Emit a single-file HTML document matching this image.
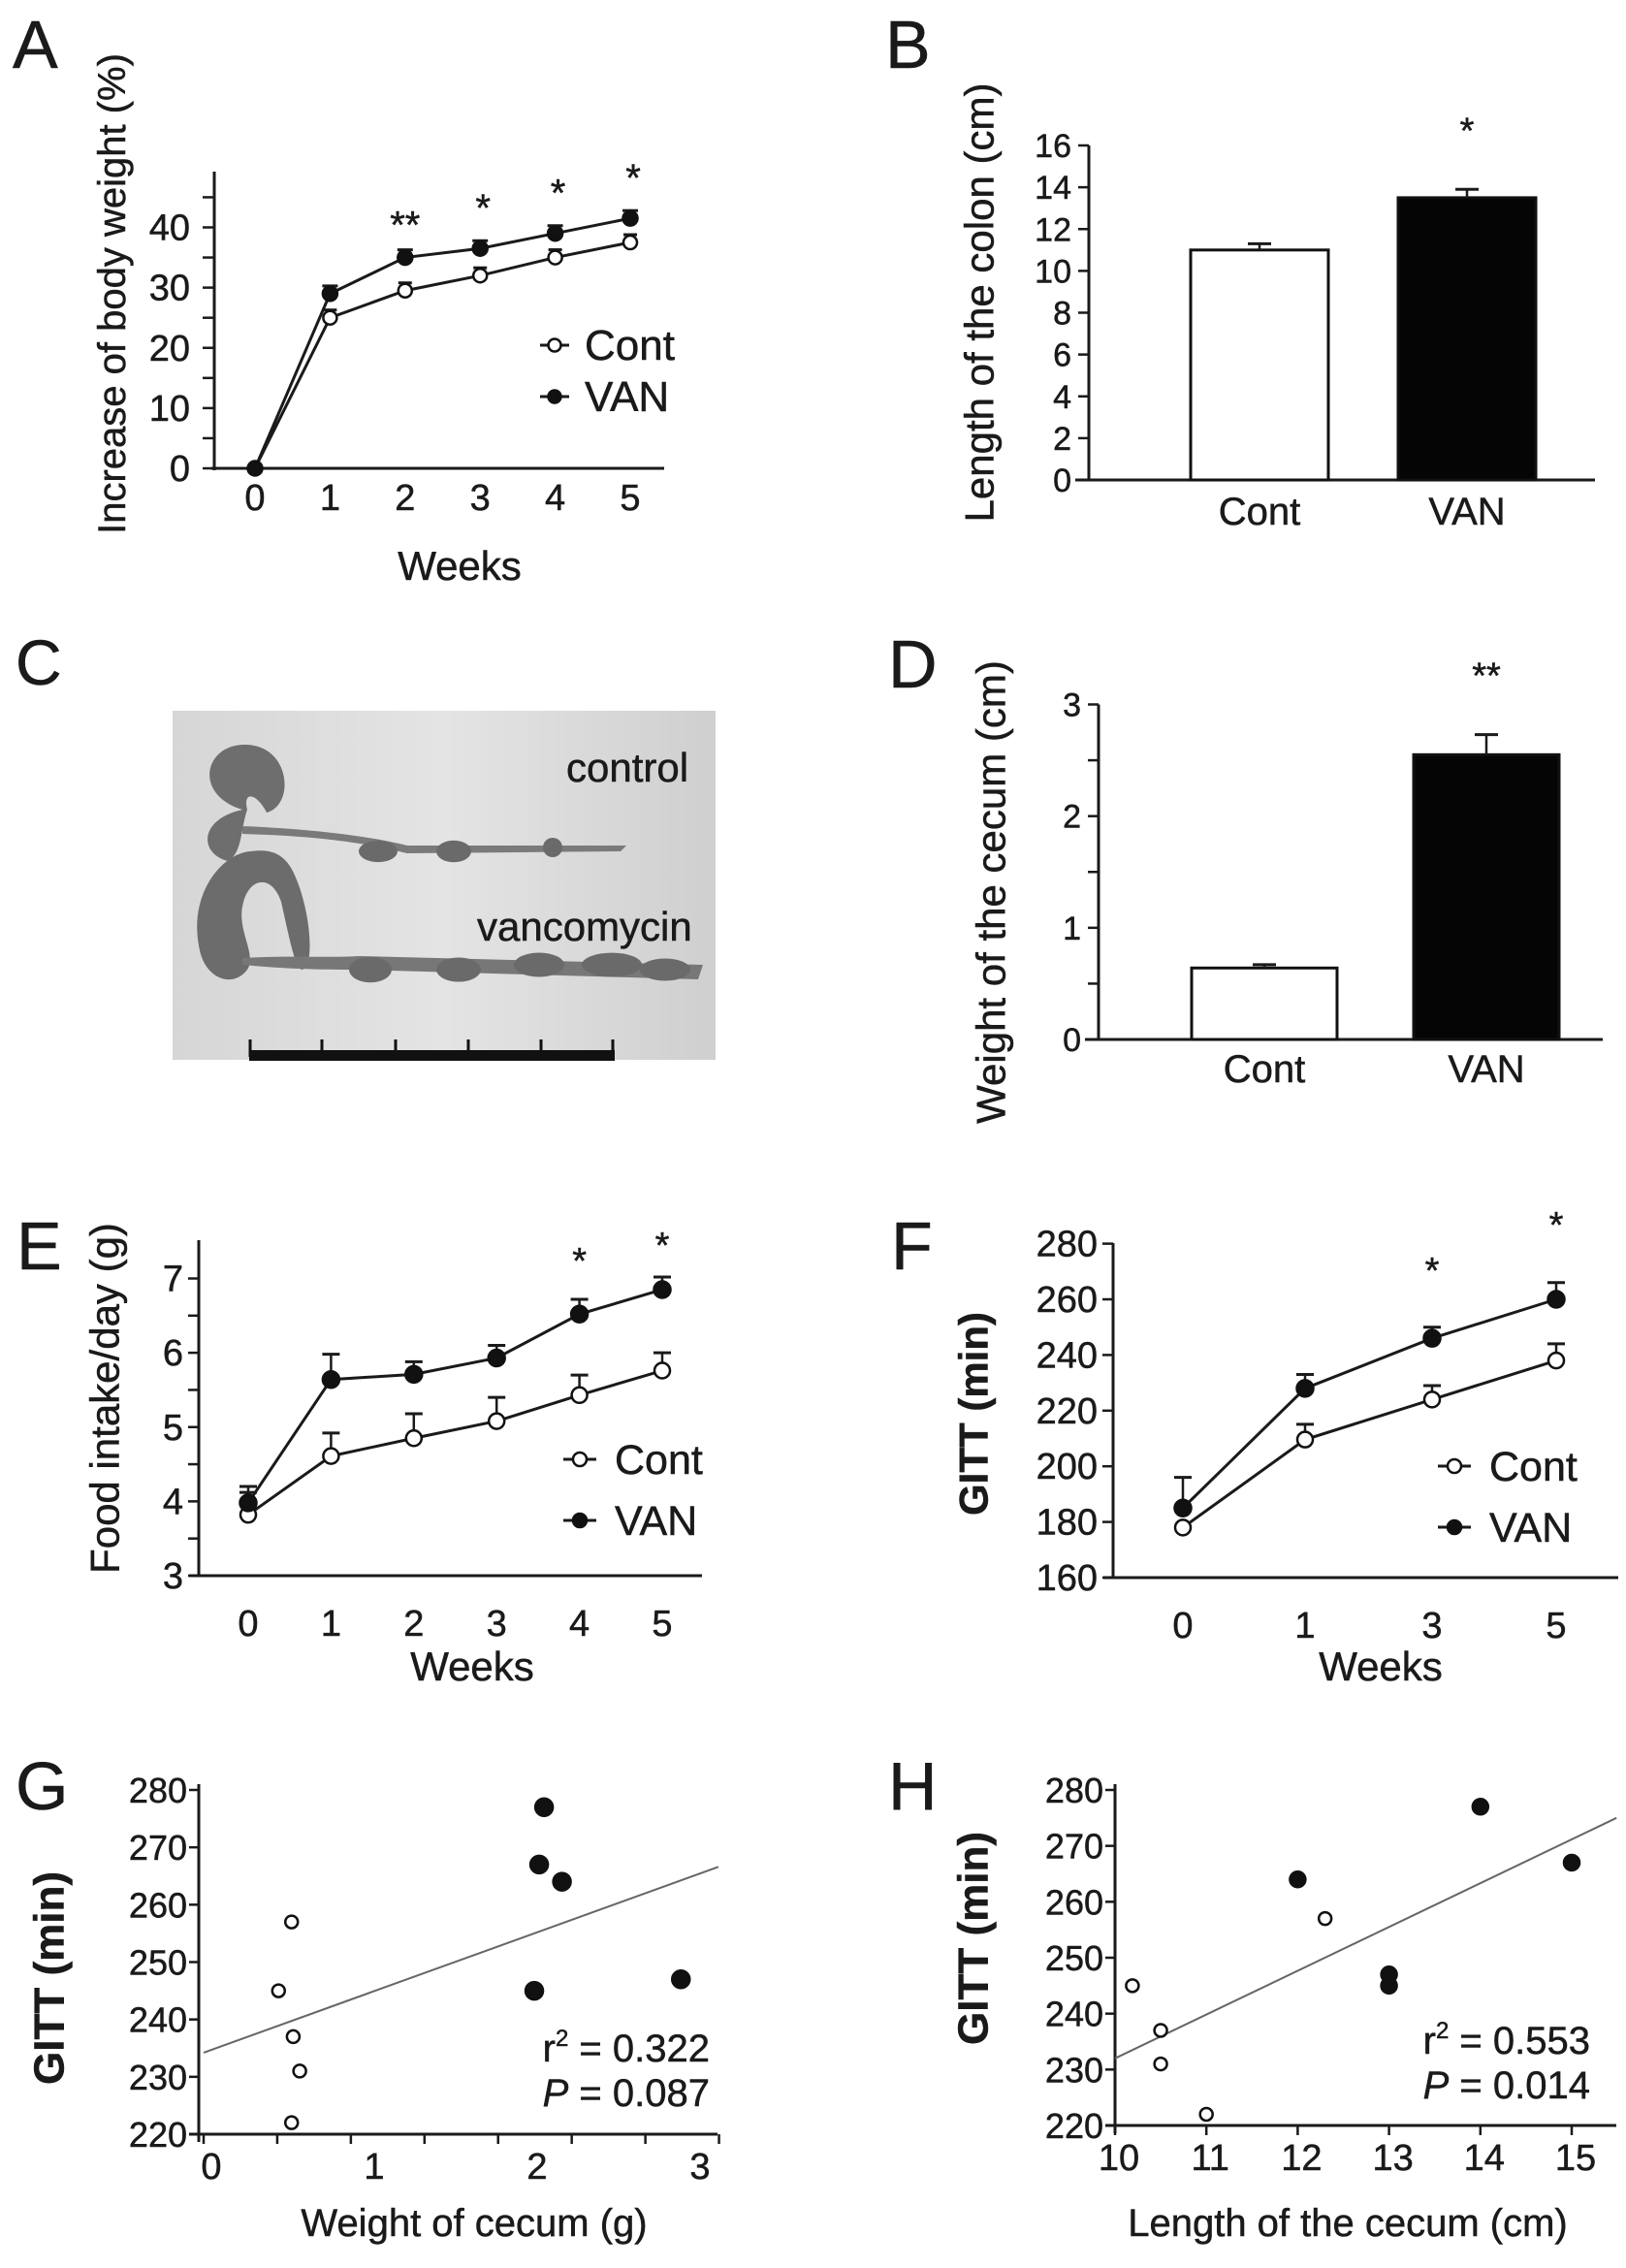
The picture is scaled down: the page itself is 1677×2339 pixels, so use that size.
<!DOCTYPE html>
<html><head><meta charset="utf-8">
<style>
html,body{margin:0;padding:0;background:#fff}
svg{display:block}
text{font-family:"Liberation Sans",Arial,sans-serif;fill:#1a1a1a;stroke:#1a1a1a;stroke-width:0.5}
</style></head>
<body>
<svg id="fig" width="1677" height="2339" viewBox="0 0 1677 2339" xmlns="http://www.w3.org/2000/svg">
<g id="panelC">
  <text x="16" y="706" font-size="66">C</text>
  <defs><linearGradient id="bg" x1="0" x2="1"><stop offset="0" stop-color="#d6d6d6"/><stop offset="0.5" stop-color="#e4e4e4"/><stop offset="1" stop-color="#cfcfcf"/></linearGradient></defs>
  <rect x="178" y="733" width="560" height="360" fill="url(#bg)"/>
  <path d="M250,835 C200,820 210,770 250,768 C300,766 305,830 275,838 C265,818 250,815 255,835 C248,855 250,880 235,888 C205,880 205,845 250,835 Z" fill="#6e6e6e"/>
  <path d="M250,860 C330,862 380,870 420,880 L640,878 L646,872 L420,872 C380,862 320,855 250,852 Z" fill="#7a7a7a"/>
  <path d="M370,878 a18,10 0 1,0 40,0 a18,10 0 1,0 -40,0 M450,878 a16,10 0 1,0 36,0 a16,10 0 1,0 -36,0 M560,874 a10,10 0 1,0 20,0 a10,10 0 1,0 -20,0" fill="#6a6a6a"/>
  <path d="M258,878 C230,880 195,920 205,975 C210,1010 240,1020 255,1000 C265,985 245,960 250,935 C255,905 280,900 290,930 C300,975 305,1000 312,1000 C325,995 320,940 305,905 C295,880 280,875 258,878 Z" fill="#6c6c6c"/>
  <path d="M250,995 C300,1000 340,1000 370,1000 L720,1010 L725,995 L370,986 C340,988 300,985 250,988 Z" fill="#777"/>
  <path d="M360,1000 a20,12 0 1,0 44,0 a20,12 0 1,0 -44,0 M450,1000 a22,12 0 1,0 46,0 a22,12 0 1,0 -46,0 M530,995 a25,12 0 1,0 52,0 a25,12 0 1,0 -52,0 M600,995 a30,12 0 1,0 62,0 a30,12 0 1,0 -62,0 M660,1000 a25,11 0 1,0 52,0 a25,11 0 1,0 -52,0" fill="#6a6a6a"/>
  <text x="584" y="806" font-size="42">control</text>
  <text x="492" y="970" font-size="42">vancomycin</text>
  <rect x="257" y="1083" width="377" height="11" fill="#111"/>
  <path d="M258,1072V1090 M332,1072V1090 M408,1072V1090 M483,1072V1090 M558,1072V1090 M632,1072V1090" stroke="#111" stroke-width="3"/>
</g>
</svg>
<script>
// ---------- Panel A data ----------
const aWeeks = [0,1,2,3,4,5];
const aCont = [0,25,29.5,32,35,37.5];
const aVan = [0,29,35,36.5,39,41.5];
const aYTicks = [0,10,20,30,40];
const aStars = ['','','**','*','*','*'];
// ---------- Panel B data ----------
const bCats = ['Cont','VAN'];
const bVals = [11.0,13.5];
const bErr = [0.3,0.4];
const bYTicks = [0,2,4,6,8,10,12,14,16];
// ---------- Panel D data ----------
const dCats = ['Cont','VAN'];
const dVals = [0.64,2.55];
const dErr = [0.03,0.18];
const dYTicks = [0,1,2,3];
// ---------- Panel E data ----------
const eWeeks = [0,1,2,3,4,5];
const eCont = [3.82,4.61,4.85,5.08,5.43,5.76];
const eContErr = [0.3,0.31,0.33,0.32,0.27,0.24];
const eVan = [3.98,5.64,5.71,5.93,6.52,6.85];
const eVanErr = [0.22,0.34,0.17,0.17,0.2,0.17];
const eYTicks = [3,4,5,6,7];
const eStars = ['','','','','*','*'];
// ---------- Panel F data ----------
const fWeeks = ['0','1','3','5'];
const fCont = [178,209.6,224,238];
const fContErr = [0,5.5,5,6];
const fVan = [185,228,246,260];
const fVanErr = [11,5,4,6];
const fYTicks = [160,180,200,220,240,260,280];
const fStars = ['','','*','*'];
// ---------- Panel G data ----------
const gContX = [0.54,0.46,0.55,0.59,0.54];
const gContY = [257,245,237,231,222];
const gVanX = [2.09,2.06,2.2,2.03,2.93];
const gVanY = [277,267,264,245,247];
const gFit = [[0,234.2],[3.16,266.6]];
const gYTicks = [220,230,240,250,260,270,280];
const gXTicks = [0,1,2,3];
// ---------- Panel H data ----------
const hContX = [10.19,10.5,10.5,11,12.3];
const hContY = [245,237,231,222,257];
const hVanX = [12,14,15,13,13];
const hVanY = [264,277,267,247,245];
const hFit = [[10,232],[15.49,275]];
const hYTicks = [220,230,240,250,260,270,280];
const hXTicks = [10,11,12,13,14,15];

const svg = document.getElementById('fig');
const NS = 'http://www.w3.org/2000/svg';
function mk(tag, attrs, parent){
  const e = document.createElementNS(NS, tag);
  for (const k in attrs) e.setAttribute(k, attrs[k]);
  (parent||svg).appendChild(e);
  return e;
}
function txt(x,y,s,size,parent,anchor,extra){
  const t = mk('text',Object.assign({x:x,y:y,'font-size':size,'text-anchor':anchor||'middle'},extra||{}),parent);
  t.textContent = s;
  return t;
}
function lin(d0,d1,r0,r1){ return v => r0 + (v-d0)*(r1-r0)/(d1-d0); }
function grp(name){
  const g = mk('g',{});
  
  
  return g;
}
function line(x1,y1,x2,y2,g,w,c){ return mk('line',{x1:x1,y1:y1,x2:x2,y2:y2,stroke:c||'#1a1a1a','stroke-width':w||3},g); }
function circ(x,y,r,filled,g){ return mk('circle',{cx:x,cy:y,r:r,fill:filled?'#111':'#fff',stroke:'#111','stroke-width':2.5},g); }
function ytitle(x,y,s,size,g,bold){
  const t = txt(x,y,s,size,g,'middle',{transform:'rotate(-90 '+x+' '+y+')','dominant-baseline':'central'});
  if(bold) t.setAttribute('font-weight','bold');
  return t;
}
function errbar(x,y0,y1,g,cap){ line(x,y0,x,y1,g,2.5); line(x-(cap||9),y1,x+(cap||9),y1,g,3); }

// ===== Panel A =====
(function(){
  const g = grp('panel-a-body-weight');
  const X = lin(0,5,263,650), Y = lin(0,40,483,234.5);
  txt(13,70,'A',70,g,'start');
  line(221,177,221,485,g); line(218,483,685,483,g);
  for(let v=0; v<=45; v+=5){ line(209,Y(v),221,Y(v),g,2.5); }
  aYTicks.forEach(v=>{ const t=txt(196,Y(v)+13,String(v),38,g,'end');  });
  aWeeks.forEach(w=>{ const t=txt(X(w),526,String(w),38,g);  });
  const yt = ytitle(116,303,'Increase of body weight (%)',40,g);
  
  const xt = txt(474,598,'Weeks',42,g); 
  const pc = mk('polyline',{points:aWeeks.map((w,i)=>X(w)+','+Y(aCont[i])).join(' '),fill:'none',stroke:'#1a1a1a','stroke-width':3},g);
  
  const pv = mk('polyline',{points:aWeeks.map((w,i)=>X(w)+','+Y(aVan[i])).join(' '),fill:'none',stroke:'#1a1a1a','stroke-width':3},g);
  
  aWeeks.forEach((w,i)=>{
    if(i>0){ line(X(w)-8,Y(aVan[i])-8,X(w)+8,Y(aVan[i])-8,g,3); line(X(w)-7,Y(aCont[i])-8,X(w)+7,Y(aCont[i])-8,g,3); }
    const c1=circ(X(w),Y(aCont[i]),7,false,g); 
    const c2=circ(X(w),Y(aVan[i]),7.5,true,g); 
    if(aStars[i]){ const s=txt(X(w)+(i===2?0:3),Y(aVan[i])-(i===2?20:28),aStars[i],40,g);  }
  });
  line(557,356,587,356,g,3); circ(572,356,6.5,false,g);
  const l1=txt(603,371,'Cont',44,g,'start'); 
  line(557,409,587,409,g,3); circ(572,409,6.5,true,g);
  const l2=txt(603,424,'VAN',44,g,'start'); 
})();

// ===== bar panel helper =====
function barPanel(name,letter,lx,ly,ax,yTop,yZero,xEnd,dMax,ticks,minor,cats,vals,errs,barX,barW,title,tx,ty,stars,catY){
  const g = grp(name);
  const Y = lin(0,dMax,yZero,yTop);
  txt(lx,ly,letter,70,g,'start');
  line(ax,yTop,ax,yZero+1.5,g); line(ax-14,yZero,xEnd,yZero,g);
  minor.forEach(v=>line(ax-11,Y(v),ax,Y(v),g,2.5));
  ticks.forEach(v=>{ const t=txt(ax-18,Y(v)+12,String(v),34,g,'end');  });
  cats.forEach((c,i)=>{
    const b = mk('rect',{x:barX[i],y:Y(vals[i]),width:barW,height:yZero-Y(vals[i]),fill:i?'#050505':'#fff',stroke:'#111','stroke-width':3},g);
    
    errbar(barX[i]+barW/2,Y(vals[i]),Y(vals[i]+errs[i]),g,12);
    const t=txt(barX[i]+barW/2,catY,c,40,g); 
    if(stars[i]){ const s=txt(barX[i]+barW/2,Y(vals[i]+errs[i])-48,stars[i],38,g);  }
  });
  const yt=ytitle(tx,ty,title,42,g); 
}
barPanel('panel-b','B',913,70,1123,150,495,1645,16,bYTicks,bYTicks,bCats,bVals,bErr,[1228,1442],142,'Length of the colon (cm)',1010,312,['','*'],541);
barPanel('panel-d','D',916,709,1133,726.5,1072,1653,3,dYTicks,[0,0.5,1,1.5,2,2.5,3],dCats,dVals,dErr,[1229,1458],150,'Weight of the cecum (cm)',1022,920,['','**'],1116);

// ===== line panel helper (E, F) =====
function linePanel(name,letter,lx,ly,ax,yTop,yAxTop,yZero,xEnd,d0,d1,ticks,minor,xs,xl,cont,cerr,van,verr,stars,title,tx,ty,tbold,legX,legY1,legY2,weeksX,weeksY,starY){
  const g = grp(name);
  const Y = lin(d0,d1,yZero,yTop);
  txt(lx,ly,letter,70,g,'start');
  line(ax,yAxTop,ax,yZero+1.5,g); line(ax-10,yZero,xEnd,yZero,g);
  minor.forEach(v=>line(ax-11,Y(v),ax,Y(v),g,2.5));
  ticks.forEach(v=>{ const t=txt(ax-16,Y(v)+13,String(v),38,g,'end');  });
  xs.forEach((x,i)=>{ const t=txt(x,yZero+62,xl[i],38,g);  });
  const pc = mk('polyline',{points:xs.map((x,i)=>x+','+Y(cont[i])).join(' '),fill:'none',stroke:'#1a1a1a','stroke-width':3},g);
  
  const pv = mk('polyline',{points:xs.map((x,i)=>x+','+Y(van[i])).join(' '),fill:'none',stroke:'#1a1a1a','stroke-width':3},g);
  
  xs.forEach((x,i)=>{
    if(cerr[i]>0) errbar(x,Y(cont[i]),Y(cont[i]+cerr[i]),g,9);
    if(verr[i]>0) errbar(x,Y(van[i]),Y(van[i]+verr[i]),g,9);
    const c1=circ(x,Y(cont[i]),8,false,g); 
    const c2=circ(x,Y(van[i]),8.5,true,g); 
    if(stars[i]){ const s=txt(x,starY[i],stars[i],38,g);  }
  });
  line(legX,legY1,legX+34,legY1,g,3); circ(legX+17,legY1,7,false,g);
  const l1=txt(legX+53,legY1+15,'Cont',43,g,'start'); 
  line(legX,legY2,legX+34,legY2,g,3); circ(legX+17,legY2,7,true,g);
  const l2=txt(legX+53,legY2+15,'VAN',43,g,'start'); 
  const yt=ytitle(tx,ty,title,42,g,tbold); 
  const xt=txt(weeksX,weeksY,'Weeks',42,g); 
}
const eX = lin(0,5,256,683);
linePanel('panel-e','E',17,1309,205,1318.5,1279,1625,724,3,7,eYTicks,[3,3.5,4,4.5,5,5.5,6,6.5,7],
  eWeeks.map(eX),eWeeks.map(String),eCont,eContErr,eVan,eVanErr,eStars,'Food intake/day (g)',108,1442,false,581,1505,1568,487,1733,[0,0,0,0,1313,1297]);
linePanel('panel-f','F',919,1309,1148,1282.6,1282,1627,1669,160,280,fYTicks,fYTicks,
  [1220,1346,1477,1605],fWeeks,fCont,fContErr,fVan,fVanErr,fStars,'GITT (min)',1004,1458,true,1483,1512,1575,1424,1733,[0,0,1323,1276]);

// ===== scatter helper (G, H) =====
function scatter(name,letter,lx,ly,ax,yTop,yZero,xEnd,X,yt,xt,xTickMarks,cx,cy,vx,vy,fit,xtitle,xtX,ytX,ytY,statX,r2,p,rBig,rY,pY){
  const g = grp(name);
  const Y = lin(220,280,yZero,yTop);
  txt(lx,ly,letter,70,g,'start');
  line(ax,yTop-6,ax,yZero+8,g); line(ax-10,yZero,xEnd,yZero,g);
  yt.forEach(v=>{ line(ax-10,Y(v),ax,Y(v),g,2.5); const t=txt(ax-12,Y(v)+13,String(v),36,g,'end');  });
  xTickMarks.forEach(v=>line(X(v),yZero,X(v),yZero+10,g,2.5));
  xt.forEach(v=>{ const t=txt(X(v)+(name==='panel-g'?8:4),yZero+46,String(v),38,g);  });
  const fl = line(X(fit[0][0]),Y(fit[0][1]),X(fit[1][0]),Y(fit[1][1]),g,2,'#666');
  
  cx.forEach((x,i)=>{ const c=circ(X(x),Y(cy[i]),6.5,false,g);  });
  vx.forEach((x,i)=>{ const c=circ(X(x),Y(vy[i]),rBig,true,g);  });
  const s1 = txt(statX,rY,'',40,g,'end'); 
  s1.innerHTML = 'r<tspan font-size="24" dy="-16">2</tspan><tspan dy="16"> = '+r2+'</tspan>';
  const s2 = txt(statX,pY,'',40,g,'end'); 
  s2.innerHTML = '<tspan font-style="italic">P</tspan> = '+p;
  const a=txt(xtX,2306,xtitle,40,g); 
  const b=ytitle(ytX,ytY,'GITT (min)',44,g,true); 
}
scatter('panel-g','G',16,1866,205,1846,2201,740,lin(0,1,210,378),gYTicks,gXTicks,[0,0.452,0.904,1.356,1.808,2.26,2.712,3.164],
  gContX,gContY,gVanX,gVanY,gFit,'Weight of cecum (g)',489,51,2040,732,'0.322','0.087',9,2126,2172);
scatter('panel-h','H',916,1866,1150,1846,2192,1667,lin(10,15,1150,1621),hYTicks,hXTicks,hXTicks,
  hContX,hContY,hVanX,hVanY,hFit,'Length of the cecum (cm)',1390,1004,1999,1640,'0.553','0.014',8,2118,2164);
</script>
</body></html>
